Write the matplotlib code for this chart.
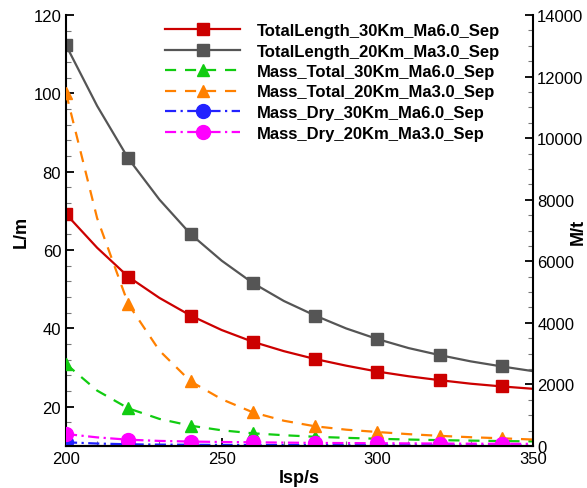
import numpy as np
import matplotlib.pyplot as plt
from matplotlib.ticker import MultipleLocator

plt.rcParams['font.family'] = ['Liberation Sans', 'DejaVu Sans']

# Isp values (s); markers are drawn every 20 s
isp = [200, 210, 220, 230, 240, 250, 260, 270, 280, 290, 300, 310, 320, 330, 340, 350]

# total length (m), left axis
len_30km = [69.2, 60.6, 53.2, 47.8, 43.3, 39.6, 36.6, 34.2, 32.2, 30.5, 29.0, 27.8, 26.8, 25.9, 25.2, 24.6]
len_20km = [112.3, 96.8, 83.4, 72.9, 64.1, 57.3, 51.6, 47.0, 43.3, 40.0, 37.3, 35.0, 33.2, 31.6, 30.3, 29.1]

# masses (t), right axis
mtot_30km = [2663, 1800, 1224, 880, 660, 510, 412, 350, 300, 265, 235, 210, 190, 175, 160, 150]
mtot_20km = [11466, 7400, 4612, 3100, 2101, 1520, 1094, 820, 640, 530, 455, 385, 330, 285, 250, 210]
mdry_30km = [120, 80, 55, 45, 40, 35, 32, 30, 28, 26, 25, 24, 23, 22, 21, 20]
mdry_20km = [390, 280, 205, 165, 145, 130, 120, 110, 100, 95, 90, 85, 80, 75, 72, 70]

fig = plt.figure(figsize=(5.87, 4.89), dpi=100)
ax = fig.add_axes([66 / 587, 1 - 447 / 489, (533 - 66) / 587, (447 - 16) / 489])
ax2 = ax.twinx()

mk = slice(0, 15, 2)

l1, = ax.plot(isp, len_30km, color='#cc0000', lw=1.6, marker='s', ms=8.5, markevery=mk,
              label='TotalLength_30Km_Ma6.0_Sep')
l2, = ax.plot(isp, len_20km, color='#555555', lw=1.6, marker='s', ms=8.5, markevery=mk,
              label='TotalLength_20Km_Ma3.0_Sep')
l3, = ax2.plot(isp, mtot_30km, color='#11cc11', lw=1.6, ls=(0, (5, 4)), marker='^', ms=9,
               markevery=mk, label='Mass_Total_30Km_Ma6.0_Sep')
l4, = ax2.plot(isp, mtot_20km, color='#ff8000', lw=1.6, ls=(0, (5, 4)), marker='^', ms=9,
               markevery=mk, label='Mass_Total_20Km_Ma3.0_Sep')
l5, = ax2.plot(isp, mdry_30km, color='#2222ff', lw=1.6, ls=(0, (5, 2, 1, 2)), marker='o', ms=10,
               markevery=mk, label='Mass_Dry_30Km_Ma6.0_Sep')
l6, = ax2.plot(isp, mdry_20km, color='#ff00ff', lw=1.6, ls=(0, (5, 2, 1, 2)), marker='o', ms=10,
               markevery=mk, label='Mass_Dry_20Km_Ma3.0_Sep')

ax.set_xlim(200, 350)
ax.set_ylim(10, 120)
ax2.set_ylim(0, 14000)

ax.xaxis.set_major_locator(MultipleLocator(50))
ax.xaxis.set_minor_locator(MultipleLocator(10))
ax.yaxis.set_major_locator(MultipleLocator(20))
ax.yaxis.set_minor_locator(MultipleLocator(4))
ax2.yaxis.set_major_locator(MultipleLocator(2000))
ax2.yaxis.set_minor_locator(MultipleLocator(500))

for a in (ax, ax2):
    a.spines['top'].set_visible(False)
    for s in a.spines.values():
        s.set_linewidth(1.5)
    a.tick_params(which='major', direction='in', length=6, width=1.3, labelsize=12)
    a.tick_params(which='minor', direction='in', length=3.5, width=0.8, color='#777777')
ax.spines['right'].set_visible(False)
ax2.spines['left'].set_visible(False)
ax2.tick_params(axis='y', pad=3)

ax.set_xlabel('Isp/s', fontsize=13, fontweight='bold', labelpad=2)
ax.set_ylabel('L/m', fontsize=13, fontweight='bold')
ax.yaxis.set_label_coords(-36 / 467, 0.5)
ax2.set_ylabel('M/t', fontsize=13, fontweight='bold')
ax2.yaxis.set_label_coords(1 + 37 / 467, 0.5)

leg = ax2.legend(handles=[l1, l2, l3, l4, l5, l6], loc='upper left',
                 bbox_to_anchor=(165 / 587, 1 - 24 / 489), bbox_transform=fig.transFigure,
                 frameon=False, borderpad=0, borderaxespad=0, handlelength=4.5,
                 handletextpad=1.0, labelspacing=0.33,
                 prop={'weight': 'bold', 'size': 12})

fig.savefig('out.png', dpi=100)
